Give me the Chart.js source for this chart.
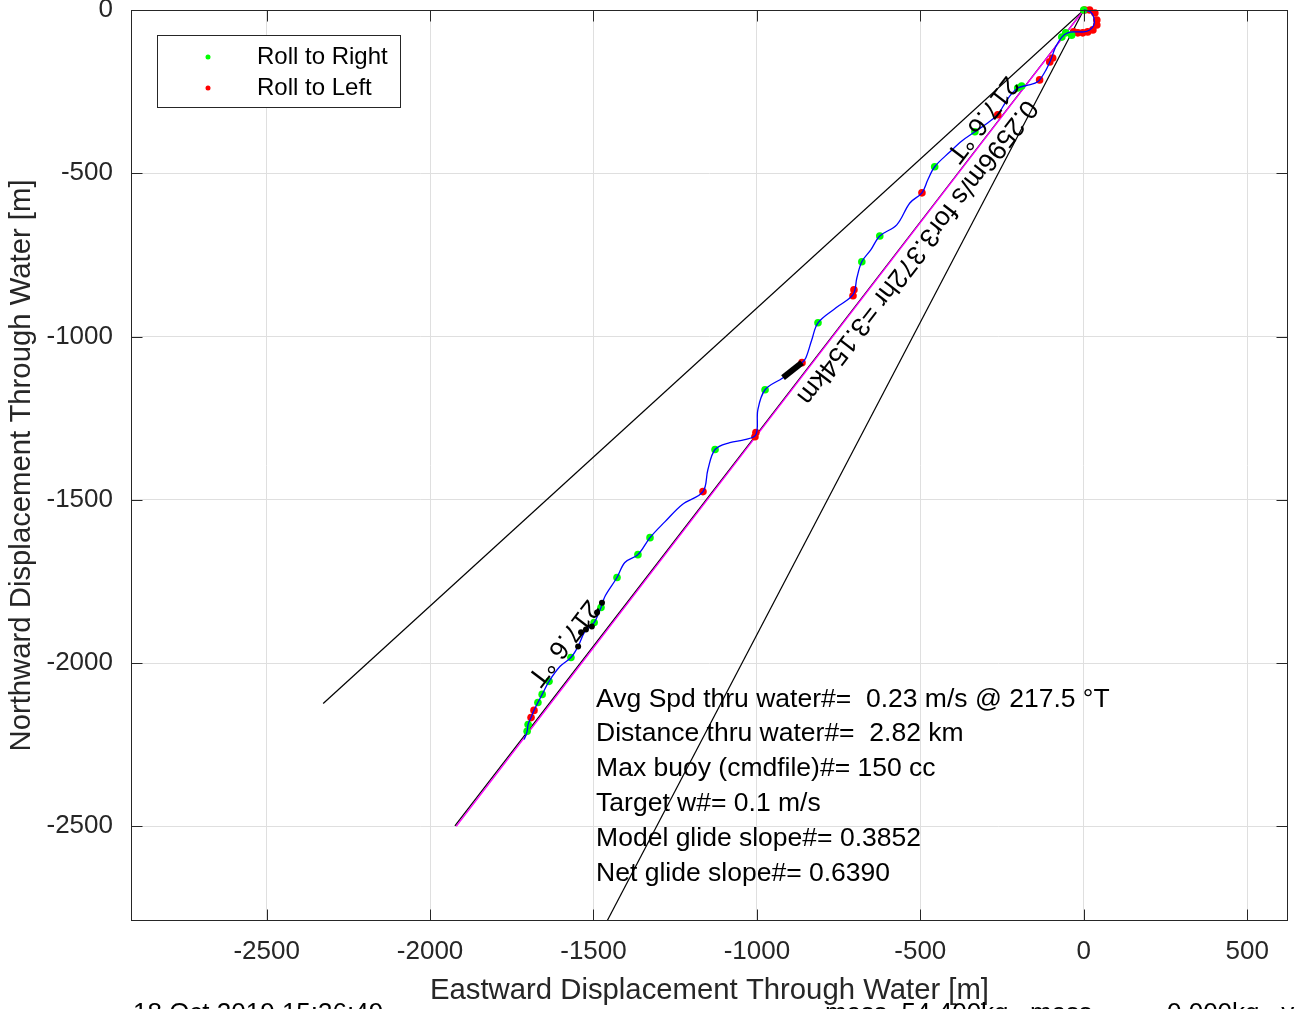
<!DOCTYPE html>
<html>
<head>
<meta charset="utf-8">
<script src="https://cdn.jsdelivr.net/npm/chart.js@4/dist/chart.umd.min.js"></script>
<style>
html, body { margin: 0; padding: 0; background: #fff; }
#wrap { width: 1296px; height: 1009px; }
</style>
</head>
<body>
<div id="wrap"><canvas id="chart" width="1296" height="1009"></canvas></div>
<script>
// Track through water (m east, m north)
const trackX = [0, 21, 31, 31, 18, 0, -24, -49, -67, -86, -101, -119, -141, -171, -202, -226, -248, -263, -294, -333,
  -373, -410, -456, -477, -495, -532, -572, -624, -651, -679, -694, -706, -758, -813, -832, -850, -862, -920, -975, -997,
  -1003, -1037, -1083, -1128, -1150, -1165, -1229, -1281, -1327, -1364, -1404, -1428, -1465, -1477, -1498, -1526, -1547, -1569, -1602, -1636,
  -1657, -1670, -1682, -1691, -1700, -1703, -1712];
const trackY = [0, -6, -24, -46, -61, -67, -67, -70, -83, -113, -153, -190, -220, -230, -239, -263, -297, -321, -346, -373,
  -401, -435, -480, -520, -560, -591, -658, -692, -734, -771, -820, -872, -912, -958, -1010, -1065, -1080, -1126, -1163, -1224,
  -1301, -1316, -1325, -1346, -1408, -1475, -1515, -1567, -1616, -1668, -1692, -1738, -1796, -1830, -1876, -1903, -1949, -1983, -2010, -2056,
  -2096, -2121, -2145, -2167, -2188, -2209, -2234];

// Roll events
const rollRightX = [0, -37, -55, -67, -190, -202, -333, -456, -624, -679, -813, -975, -1128, -1327, -1364, -1428, -1477, -1498, -1569, -1636, -1657, -1670, -1700, -1703];
const rollRightY = [0, -77, -70, -83, -233, -239, -373, -480, -692, -771, -958, -1163, -1346, -1616, -1668, -1738, -1830, -1876, -1983, -2056, -2096, -2121, -2188, -2209];
const rollLeftX = [3, 18, 34, 40, 40, 28, 12, -3, -18, -31, -95, -104, -135, -263, -495, -703, -706, -862, -1003, -1006, -1165, -1682, -1691];
const rollLeftY = [0, 0, -9, -31, -46, -61, -67, -70, -70, -67, -147, -159, -214, -321, -560, -857, -875, -1080, -1294, -1307, -1475, -2145, -2167];

// black marks
const blackDotX = [-1474, -1489, -1505, -1523, -1538, -1547];
const blackDotY = [-1815, -1845, -1888, -1897, -1906, -1949];
const blackSegX = [-920, -862];
const blackSegY = [-1126, -1080];

// rays from start
const portRayX = [0, -2327];
const portRayY = [0, -2124];
const headRayX = [0, -1924];
const headRayY = [0, -2499];
const stbdRayX = [0, -1461];
const stbdRayY = [0, -2795];
const avgRayX = [0, -1920];
const avgRayY = [0, -2500];

// axes
const xTicks = [-2500, -2000, -1500, -1000, -500, 0, 500];
const yTicks = [-2500, -2000, -1500, -1000, -500, 0];

// text
const headingDeg = 217.6;
const headingLabel = '217.6 \u00b0T';
const headingLabelAt = [[-312, -334], [-1593, -1937]];
const speedLabel = '0.2596m/s for3.372hr =3.154km';
const speedLabelAt = [-511, -741];
const statsLines = [
  'Avg Spd thru water#=  0.23 m/s @ 217.5 \u00b0T',
  'Distance thru water#=  2.82 km',
  'Max buoy (cmdfile)#= 150 cc',
  'Target w#= 0.1 m/s',
  'Model glide slope#= 0.3852',
  'Net glide slope#= 0.6390'
];
const statsAt = [-1492, -2111];

const FONT = "'Liberation Sans', Arial, Helvetica, sans-serif";
const AX = '#262626';
const zip = (xs, ys) => xs.map((v, i) => ({x: v, y: ys[i]}));

function rayDs(xs, ys, color, width, order) {
  return { data: zip(xs, ys), showLine: true, borderColor: color, borderWidth: width, pointRadius: 0, order: order };
}
function dotDs(label, xs, ys, color, r, order) {
  return { label: label, data: zip(xs, ys), showLine: false, backgroundColor: color, borderWidth: 0,
    pointRadius: r, pointHoverRadius: r, order: order, clip: 8 };
}

const extras = {
  id: 'extras',
  afterDraw(chart) {
    const {ctx, chartArea: a, scales: {x, y}} = chart;
    const tickLen = 11.5;
    ctx.save();

    // inward ticks + box
    ctx.strokeStyle = AX;
    ctx.lineWidth = 1;
    ctx.beginPath();
    xTicks.forEach(v => {
      const p = Math.round(x.getPixelForValue(v)) + 0.5;
      ctx.moveTo(p, a.bottom); ctx.lineTo(p, a.bottom - tickLen);
      ctx.moveTo(p, a.top); ctx.lineTo(p, a.top + tickLen);
    });
    yTicks.forEach(v => {
      const p = Math.round(y.getPixelForValue(v)) + 0.5;
      ctx.moveTo(a.left, p); ctx.lineTo(a.left + tickLen, p);
      ctx.moveTo(a.right, p); ctx.lineTo(a.right - tickLen, p);
    });
    ctx.stroke();
    ctx.strokeRect(Math.round(a.left) + 0.5, Math.round(a.top) + 0.5, Math.round(a.width) - 1, Math.round(a.height) - 1);

    // rotated labels along heading
    const h = headingDeg * Math.PI / 180;
    const ang = Math.atan2(y.getPixelForValue(Math.cos(h) * 1000) - y.getPixelForValue(0),
                           x.getPixelForValue(Math.sin(h) * 1000) - x.getPixelForValue(0));
    const rot = (txt, p) => {
      ctx.save();
      ctx.translate(x.getPixelForValue(p[0]), y.getPixelForValue(p[1]));
      ctx.rotate(ang);
      ctx.font = '26.5px ' + FONT;
      ctx.fillStyle = '#000';
      ctx.textAlign = 'center';
      ctx.textBaseline = 'middle';
      ctx.fillText(txt, 0, 0);
      ctx.restore();
    };
    headingLabelAt.forEach(p => rot(headingLabel, p));
    rot(speedLabel, speedLabelAt);

    // stats block
    ctx.font = '26.5px ' + FONT;
    ctx.fillStyle = '#000';
    ctx.textAlign = 'left';
    ctx.textBaseline = 'middle';
    const sx = x.getPixelForValue(statsAt[0]), sy = y.getPixelForValue(statsAt[1]);
    statsLines.forEach((t, i) => ctx.fillText(t, sx, sy + i * 34.8));

    // legend
    ctx.fillStyle = '#fff';
    ctx.fillRect(157, 35, 243, 72);
    ctx.strokeStyle = AX;
    ctx.strokeRect(157.5, 35.5, 243, 72);
    const items = chart.data.datasets.filter(d => d.label);
    items.forEach((d, i) => {
      const cy = 57 + i * 31;
      ctx.fillStyle = d.backgroundColor;
      ctx.beginPath(); ctx.arc(208, cy, 2.5, 0, Math.PI * 2); ctx.fill();
      ctx.fillStyle = '#000';
      ctx.font = '24px ' + FONT;
      ctx.textBaseline = 'middle';
      ctx.fillText(d.label, 257, cy);
    });

    // footer (cut off by page edge)
    ctx.fillStyle = '#000';
    ctx.font = '26px ' + FONT;
    ctx.textBaseline = 'alphabetic';
    ctx.fillText('18 Oct 2019 15:36:49', 133, 1021);
    ctx.fillText('mass  54.400kg,', 825, 1021);
    ctx.fillText('mass', 1030, 1021);
    ctx.fillText('0.000kg,  vo', 1167, 1021);
    ctx.restore();
  }
};

new Chart(document.getElementById('chart'), {
  type: 'scatter',
  data: {
    datasets: [
      rayDs(portRayX, portRayY, '#000', 1.2, 8),
      rayDs(headRayX, headRayY, '#000', 1.2, 8),
      rayDs(stbdRayX, stbdRayY, '#000', 1.2, 8),
      rayDs(avgRayX, avgRayY, '#ff00ff', 1.3, 7),
      dotDs('Roll to Right', rollRightX, rollRightY, '#00ff00', 3.8, 4),
      dotDs('Roll to Left', rollLeftX, rollLeftY, '#ff0000', 3.8, 5),
      { data: zip(trackX, trackY), showLine: true, borderColor: '#0000ff', borderWidth: 1.3, tension: 0.35,
        pointRadius: 0, order: 2, clip: 4 },
      rayDs(blackSegX, blackSegY, '#000', 6, 1),
      { data: zip(blackDotX, blackDotY), showLine: false, backgroundColor: '#000', borderWidth: 0,
        pointRadius: 3, order: 0 }
    ]
  },
  options: {
    responsive: false,
    animation: false,
    events: [],
    layout: { padding: { left: 0, right: 8, top: 10, bottom: 0 } },
    plugins: { legend: { display: false }, tooltip: { enabled: false } },
    scales: {
      x: {
        type: 'linear', min: -2915, max: 625,
        afterFit: s => { s.height = 88; s.paddingLeft = 0; s.paddingRight = 0; },
        afterBuildTicks: s => { s.ticks = xTicks.map(v => ({value: v})); },
        grid: { color: '#dfdfdf', lineWidth: 1, drawTicks: false },
        border: { display: false },
        ticks: { color: AX, font: { family: FONT, size: 26 }, padding: 15, maxRotation: 0, callback: v => String(v) },
        title: { display: true, text: 'Eastward Displacement Through Water [m]', color: AX,
          font: { family: FONT, size: 29.3 }, padding: { top: 0, bottom: 1 } }
      },
      y: {
        type: 'linear', min: -2790, max: 0,
        afterFit: s => { s.width = 131; s.paddingTop = 0; s.paddingBottom = 0; },
        afterBuildTicks: s => { s.ticks = yTicks.map(v => ({value: v})); },
        grid: { color: '#dfdfdf', lineWidth: 1, drawTicks: false },
        border: { display: false },
        ticks: { color: AX, font: { family: FONT, size: 26 }, padding: 18, callback: v => String(v) },
        title: { display: true, text: 'Northward Displacement Through Water [m]', color: AX,
          font: { family: FONT, size: 29.3 }, padding: { top: 4, bottom: 0 } }
      }
    }
  },
  plugins: [extras]
});
</script>
</body>
</html>
